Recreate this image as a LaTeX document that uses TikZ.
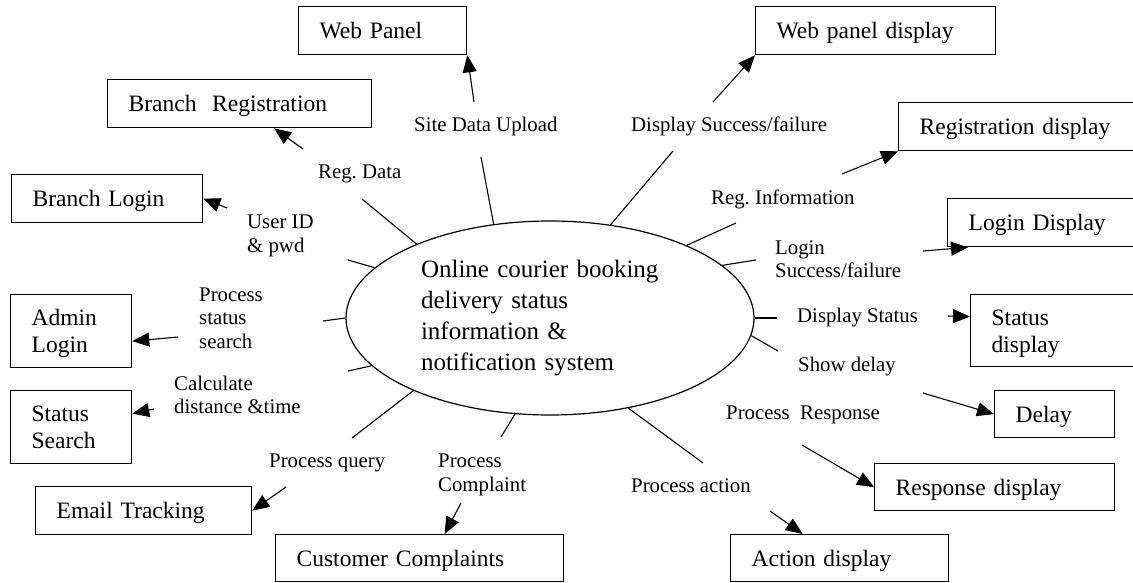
\documentclass[tikz,border=0pt]{standalone}
\usepackage{fontspec}
\setmainfont{Liberation Serif}
\usetikzlibrary{arrows.meta,shapes.geometric}
\frenchspacing

\begin{document}
\begin{tikzpicture}[x=1pt,y=-1pt,
  ent/.style={draw, line width=1.3pt, anchor=north west, align=left,
    inner xsep=21pt, inner ysep=0pt, minimum height=48pt,
    text height=18pt, text depth=2pt, font=\fontsize{23.5}{27}\selectfont},
  ent2/.style={ent, minimum height=73pt, text depth=29pt},
  proc/.style={draw, ellipse, line width=1.2pt, minimum width=408pt,
    minimum height=194pt, inner sep=0pt, align=left, text width=258pt,
    font=\fontsize{25}{31}\selectfont},
  flowtxt/.style={anchor=west, align=left, inner sep=0pt,
    font=\fontsize{20.8}{23.5}\selectfont},
  stub/.style={line width=1.1pt},
  flow/.style={line width=1.1pt, -{Triangle[length=17pt,width=14pt]}}]
\useasboundingbox (0,0) rectangle (1133,583);
\clip (0,0) rectangle (1133,583);

\node[proc] (sys) at (550,318) {Online courier booking\\delivery status\\information \&\\notification system};

\node[ent, text width=126pt] (webpanel) at (298,6) {Web Panel};
\node[ent, text width=222pt] (branchreg) at (107,79) {Branch\ \ Registration};
\node[ent, text width=149pt] (branchlogin) at (11,174) {Branch Login};
\node[ent2, text width=79pt] (adminlogin) at (10,294) {Admin\\Login};
\node[ent2, text width=79pt] (statussearch) at (10,390) {Status\\Search};
\node[ent, text width=174pt] (emailtrack) at (35,486) {Email Tracking};
\node[ent, text width=246pt, minimum height=47pt] (complaints) at (275,534) {Customer Complaints};
\node[ent, text width=198pt] (webdisp) at (755,6) {Web panel display};
\node[ent, text width=203pt] (regdisp) at (898,102) {Registration display};
\node[ent, text width=154pt] (logindisp) at (947,198) {Login Display};
\node[ent2, text width=131pt, minimum height=72pt] (statusdisp) at (970,294) {Status\\display};
\node[ent, text width=78pt, minimum height=47pt] (delaybox) at (994,390) {Delay};
\node[ent, text width=198pt, minimum height=47pt] (respdisp) at (874,463) {Response display};
\node[ent, text width=176pt, minimum height=47pt] (actiondisp) at (730,534) {Action display};

\node[flowtxt] (upl) at (414,126) {Site Data Upload};
\node[flowtxt] (regdata) at (318,174) {Reg. Data};
\node[flowtxt] (userid) at (247,236) {User ID\\\& pwd};
\node[flowtxt] (procsearch) at (199,318) {Process\\status\\search};
\node[flowtxt] (calc) at (174,395) {Calculate\\distance \&time};
\node[flowtxt] (query) at (269,463) {Process query};
\node[flowtxt] (compl) at (438,475) {Process\\Complaint};
\node[flowtxt] (action) at (631,486) {Process action};
\node[flowtxt] (resp) at (726,415) {Process\ \ Response};
\node[flowtxt] (delay) at (798,367) {Show delay};
\node[flowtxt] (dispstat) at (797,318) {Display Status};
\node[flowtxt] (loginok) at (775,259) {Login\\Success/failure};
\node[flowtxt] (reginfo) at (711,199) {Reg. Information};
\node[flowtxt] (dispok) at (631,126) {Display Success/failure};

\coordinate (upl-a) at (481,157);   \coordinate (upl-b) at (474,102);
\coordinate (regdata-a) at (362,199); \coordinate (regdata-b) at (303,149);
\coordinate (userid-a) at (348,260); \coordinate (userid-b) at (227,208);
\coordinate (procsearch-a) at (323,321); \coordinate (procsearch-b) at (178,337);
\coordinate (calc-a) at (348,371);  \coordinate (calc-b) at (154,409);
\coordinate (query-a) at (352,438); \coordinate (query-b) at (286,487);
\coordinate (compl-a) at (501,437); \coordinate (compl-b) at (461,503);
\coordinate (action-a) at (703,463); \coordinate (action-b) at (770,511);
\coordinate (resp-b) at (802,445);
\coordinate (delay-a) at (778,351); \coordinate (delay-b) at (923,393);
\coordinate (dispstat-a) at (777,318); \coordinate (dispstat-b) at (948,316);
\coordinate (loginok-a) at (756,260); \coordinate (loginok-b) at (923,251);
\coordinate (reginfo-a) at (736,223); \coordinate (reginfo-b) at (842,174);
\coordinate (dispok-a) at (673,151); \coordinate (dispok-b) at (713,102);

\draw[stub] (sys.121.8) -- (upl-a);
\draw[flow] (upl-b) -- (webpanel.south east);
\draw[stub] (sys.151.4) -- (regdata-a);
\draw[flow] (regdata-b) -- (branchreg);
\draw[stub] (sys.164.6) -- (userid-a);
\draw[flow] (userid-b) -- (branchlogin.east);
\draw[stub] (sys.180) -- (procsearch-a);
\draw[flow] (procsearch-b) -- ([yshift=-10pt]adminlogin.east);
\draw[stub] (sys.195.2) -- (calc-a);
\draw[flow] (calc-b) -- ([yshift=13.5pt]statussearch.east);
\draw[stub] (sys.208.6) -- (query-a);
\draw[flow] (query-b) -- (emailtrack.east);
\draw[stub] (sys.250.5) -- (compl-a);
\draw[flow] (compl-b) -- ([xshift=25pt]complaints.north);
\draw[stub] (sys.311.2) -- (action-a);
\draw[flow] (action-b) -- ([xshift=-37pt]actiondisp.north);
\draw[flow] (resp-b) -- (respdisp.west);
\draw[stub] (sys.355.5) -- (delay-a);
\draw[flow] (delay-b) -- (delaybox.west);
\draw[stub] (sys.0) -- (dispstat-a);
\draw[flow] (dispstat-b) -- ([yshift=14pt]statusdisp.west);
\draw[stub] (sys.17) -- (loginok-a);
\draw[flow] (loginok-b) -- ([xshift=21pt]logindisp.south west);
\draw[stub] (sys.28.1) -- (reginfo-a);
\draw[flow] (reginfo-b) -- (regdisp.south west);
\draw[stub] (sys.57.3) -- (dispok-a);
\draw[flow] (dispok-b) -- (webdisp.south west);
\end{tikzpicture}
\end{document}
